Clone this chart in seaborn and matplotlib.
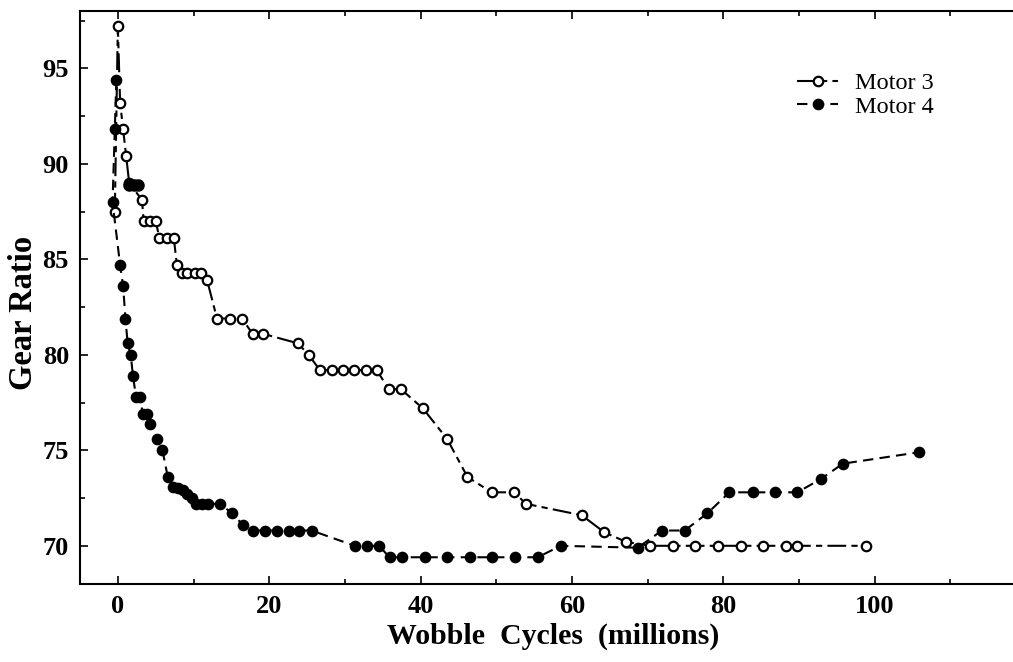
import numpy as np
import pandas as pd
import matplotlib
matplotlib.use("Agg")
import matplotlib.pyplot as plt
from matplotlib.ticker import MultipleLocator
import seaborn as sns

# Motor 3: gear ratio vs. wobble cycles (millions), in measurement order
motor3_cycles = [-0.4, 0.0, 0.3, 0.7, 1.1, 1.5, 3.2, 3.4, 4.2, 5.0, 5.5, 6.5, 7.4,
                 7.8, 8.5, 9.2, 10.2, 11.0, 11.8, 13.1, 14.8, 16.4, 17.8, 19.2,
                 23.8, 25.2, 26.7, 28.3, 29.7, 31.2, 32.8, 34.2, 35.8, 37.4, 40.3,
                 43.5, 46.2, 49.4, 52.4, 53.9, 61.3, 64.3, 67.2, 70.3, 73.3, 76.2,
                 79.3, 82.3, 85.3, 88.3, 89.8, 98.9]
motor3_ratio = [87.5, 97.2, 93.2, 91.8, 90.4, 89.0, 88.1, 87.0, 87.0, 87.0, 86.1, 86.1, 86.1,
                84.7, 84.3, 84.3, 84.3, 84.3, 83.9, 81.9, 81.9, 81.9, 81.1, 81.1,
                80.6, 80.0, 79.2, 79.2, 79.2, 79.2, 79.2, 79.2, 78.2, 78.2, 77.2,
                75.6, 73.6, 72.8, 72.8, 72.2, 71.6, 70.7, 70.2, 70.0, 70.0, 70.0,
                70.0, 70.0, 70.0, 70.0, 70.0, 70.0]

# Motor 4: gear ratio vs. wobble cycles (millions), in measurement order
motor4_cycles = [-0.2, -0.4, -0.7, 0.3, 0.7, 1.0, 1.3, 1.7, 2.0, 2.4, 2.9, 3.3, 3.8,
                 4.2, 5.2, 5.9, 6.6, 7.3, 7.9, 8.6, 9.1, 9.8, 10.3, 11.1, 11.9, 13.5,
                 15.1, 16.5, 17.8, 19.4, 21.0, 22.6, 24.0, 25.6, 31.3, 32.9, 34.5,
                 35.9, 37.5, 40.6, 43.5, 46.5, 49.5, 52.5, 55.5, 58.5, 68.7, 71.9,
                 74.9, 77.9, 80.8, 83.9, 86.9, 89.8, 92.9, 95.8, 105.9]
motor4_ratio = [94.4, 91.8, 88.0, 84.7, 83.6, 81.9, 80.6, 80.0, 78.9, 77.8, 77.8, 76.9, 76.9,
                76.4, 75.6, 75.0, 73.6, 73.1, 73.0, 72.9, 72.7, 72.5, 72.2, 72.2, 72.2, 72.2,
                71.7, 71.1, 70.8, 70.8, 70.8, 70.8, 70.8, 70.8, 70.0, 70.0, 70.0,
                69.4, 69.4, 69.4, 69.4, 69.4, 69.4, 69.4, 69.4, 70.0, 69.9, 70.8,
                70.8, 71.7, 72.8, 72.8, 72.8, 72.8, 73.5, 74.3, 74.9]

# Motor 4 readings taken in the early run-in period at a ratio of 88.9
motor4_runin_cycles = [1.5, 2.1, 2.7]
motor4_runin_ratio = [88.9, 88.9, 88.9]

m3 = pd.DataFrame({"cycles": motor3_cycles, "ratio": motor3_ratio})
m4 = pd.DataFrame({"cycles": motor4_cycles, "ratio": motor4_ratio})
m4_runin = pd.DataFrame({"cycles": motor4_runin_cycles, "ratio": motor4_runin_ratio})

sns.set_theme(style="ticks")
plt.rcParams["font.family"] = ["Liberation Serif", "DejaVu Serif"]
plt.rcParams.update({"text.color": "black", "axes.labelcolor": "black",
                     "xtick.color": "black", "ytick.color": "black",
                     "axes.edgecolor": "black"})

W, H = 1013, 662
fig = plt.figure(figsize=(W / 100, H / 100), dpi=100)
# axes spans -5..120 on x; the right edge runs past the canvas
left, right, top, bottom = 80, 1026, 11, 584
ax = fig.add_axes([left / W, 1 - bottom / H, (right - left) / W, (bottom - top) / H])

lw = 1.5
sns.lineplot(data=m3, x="cycles", y="ratio", ax=ax, sort=False, estimator=None,
             color="black", lw=lw, linestyle=(0, (9, 2.5, 3, 2.5)),
             marker="o", markersize=6.8, markerfacecolor="white",
             markeredgecolor="black", markeredgewidth=1.6, label="Motor 3")
sns.lineplot(data=m4, x="cycles", y="ratio", ax=ax, sort=False, estimator=None,
             color="black", lw=lw, linestyle=(0, (5, 3)),
             marker="o", markersize=6.8, markerfacecolor="black",
             markeredgecolor="black", markeredgewidth=1.6, label="Motor 4")
sns.scatterplot(data=m4_runin, x="cycles", y="ratio", ax=ax, color="black",
                s=55, edgecolor="black", linewidth=1.6, zorder=3)

ax.set_xlim(-5, 120)
ax.set_ylim(68, 98)
ax.xaxis.set_major_locator(MultipleLocator(20))
ax.xaxis.set_minor_locator(MultipleLocator(10))
ax.yaxis.set_major_locator(MultipleLocator(5))
ax.yaxis.set_minor_locator(MultipleLocator(2.5))
ax.set_xticks([0, 20, 40, 60, 80, 100])
ax.tick_params(which="both", direction="in", top=True, right=True, width=1.2)
ax.tick_params(which="major", length=6, labelsize=19, pad=8)
ax.tick_params(which="minor", length=3.5)
for lab in ax.get_xticklabels() + ax.get_yticklabels():
    lab.set_fontweight("bold")
for s in ax.spines.values():
    s.set_linewidth(1.5)
    s.set_color("black")

ax.set_xlabel("Wobble  Cycles  (millions)", fontsize=21.5, fontweight="bold", labelpad=3)
ax.set_ylabel("Gear Ratio", fontsize=23.5, fontweight="bold")
ax.yaxis.set_label_coords(-0.043, 0.473)

ax.legend(loc="upper left", bbox_to_anchor=(0.758, 0.893), frameon=False,
          fontsize=17.5, handlelength=1.7, handletextpad=0.7, borderpad=0,
          borderaxespad=0, labelspacing=0.05)

fig.savefig("out.png", dpi=100, facecolor="white")
